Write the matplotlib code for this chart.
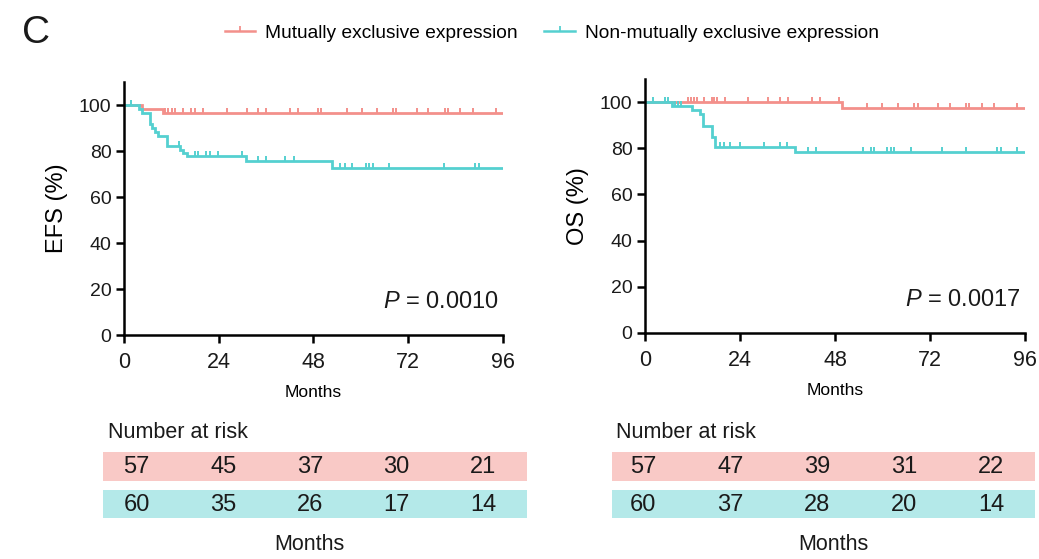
import numpy as np
import matplotlib
matplotlib.use("Agg")
import matplotlib.pyplot as plt
from matplotlib.path import Path
from matplotlib.lines import Line2D

plt.rcParams['font.family'] = ['Liberation Sans', 'DejaVu Sans']
plt.rcParams['mathtext.fontset'] = 'custom'
plt.rcParams['mathtext.it'] = 'Liberation Sans:italic'
plt.rcParams['mathtext.rm'] = 'Liberation Sans'

RED = "#F3908B"
CYAN = "#55D0D0"
RED_BAND = "#F9C9C6"
CYAN_BAND = "#B4E9E9"

groups = ["Mutually exclusive expression", "Non-mutually exclusive expression"]

# EFS curves (months, survival %)
efs_red_t = [0, 4.6, 9.8]
efs_red_s = [100, 98.2, 96.5]
efs_red_cens = [10.4, 11.2, 12.1, 12.9, 15.0, 17.1, 18.0, 20.1, 26.0, 31.1, 34.0, 36.1,
                42.0, 44.1, 49.2, 50.0, 56.4, 60.2, 64.0, 68.2, 69.0, 74.1, 77.0, 81.3,
                82.1, 85.1, 88.4, 94.3]
efs_cyan_t = [0, 3.8, 4.6, 6.6, 7.0, 7.8, 8.7, 10.8, 14.2, 15.0, 15.9, 30.8, 52.7]
efs_cyan_s = [100, 98.4, 96.7, 91.6, 89.9, 88.2, 86.4, 82.0, 80.5, 79.1, 77.8, 75.6, 72.5]
efs_cyan_cens = [1.9, 13.9, 18.0, 18.8, 20.9, 21.8, 23.9, 29.8, 34.0, 36.1, 40.9, 43.0,
                 54.8, 55.9, 57.8, 61.2, 62.0, 63.1, 67.1, 81.1, 89.0, 89.9]

# OS curves
os_red_t = [0, 49.7]
os_red_s = [100, 97.4]
os_red_cens = [10.9, 11.6, 12.4, 13.1, 15.0, 16.8, 17.5, 18.1, 20.2, 26.1, 31.2, 34.1,
               36.2, 42.1, 44.2, 49.0, 56.0, 60.0, 64.0, 68.0, 68.9, 74.1, 77.1, 81.0,
               81.9, 85.1, 88.2, 93.9]
os_cyan_t = [0, 6.7, 11.8, 13.9, 14.7, 16.8, 17.7, 37.9]
os_cyan_s = [100, 98.3, 96.6, 94.9, 89.8, 84.7, 80.5, 78.2]
os_cyan_cens = [2.1, 5.1, 5.9, 7.6, 8.4, 9.0, 18.9, 20.0, 21.5, 24.0, 30.1, 34.1, 36.0,
                41.1, 43.1, 55.0, 57.0, 57.9, 61.1, 62.1, 62.9, 67.1, 75.0, 81.0, 88.9,
                89.9, 94.1]

# number at risk
efs_risk_red = [57, 45, 37, 30, 21]
efs_risk_cyan = [60, 35, 26, 17, 14]
os_risk_red = [57, 47, 39, 31, 22]
os_risk_cyan = [60, 37, 28, 20, 14]

p_values = ["0.0010", "0.0017"]
END = 96
TXT = '#1a1a1a'

tick_marker = Path([(0, 0), (0, 1)])


def km(ax, t, s, cens, color):
    t = np.array(t + [END])
    s = np.array(s + [s[-1]])
    ax.step(t, s, where='post', color=color, lw=2.0, solid_joinstyle='miter')
    idx = np.searchsorted(t, cens, side='right') - 1
    ax.plot(cens, s[idx], ls='none', marker=tick_marker, ms=7, mew=1.4,
            color=color)


def style(ax, ylabel, p):
    ax.set_xlim(0, 96)
    ax.set_ylim(0, 110)
    ax.set_xticks([0, 24, 48, 72, 96])
    ax.set_yticks([0, 20, 40, 60, 80, 100])
    for sp in ['top', 'right']:
        ax.spines[sp].set_visible(False)
    for sp in ['left', 'bottom']:
        ax.spines[sp].set_linewidth(1.8)
    ax.tick_params(axis='both', length=6, width=1.8, color='black')
    ax.tick_params(axis='x', labelsize=15.5, pad=6)
    ax.tick_params(axis='y', labelsize=14, pad=3)
    ax.set_ylabel(ylabel, fontsize=17, labelpad=8)
    ax.set_xlabel("Months", fontsize=12.5, labelpad=9)
    ax.text(0.99, 0.13, "$\\it{P}$ = " + p, transform=ax.transAxes, ha='right',
            va='center', fontsize=17, color=TXT)
    ax.margins(0)
    for lab in ax.get_xticklabels() + ax.get_yticklabels():
        lab.set_color(TXT)


def risk_table(ax, red_vals, cyan_vals, left):
    ax.set_xlim(left, 4.5)
    ax.set_ylim(1.37, -0.38)
    ax.axis('off')
    ax.barh([0, 1], 4.5 - left, left=left, height=[0.76, 0.74],
            color=[RED_BAND, CYAN_BAND])
    for i, (a, b) in enumerate(zip(red_vals, cyan_vals)):
        ax.text(i, 0.03, str(a), ha='center', va='center', fontsize=17, color=TXT)
        ax.text(i, 1.03, str(b), ha='center', va='center', fontsize=17, color=TXT)


fig = plt.figure(figsize=(10.39, 5.59), dpi=100)

ax1 = fig.add_axes([0.1193, 0.4007, 0.3648, 0.4526])
km(ax1, efs_red_t, efs_red_s, efs_red_cens, RED)
km(ax1, efs_cyan_t, efs_cyan_s, efs_cyan_cens, CYAN)
style(ax1, "EFS (%)", p_values[0])

ax2 = fig.add_axes([0.6208, 0.4043, 0.3657, 0.4544])
km(ax2, os_red_t, os_red_s, os_red_cens, RED)
km(ax2, os_cyan_t, os_cyan_s, os_cyan_cens, CYAN)
style(ax2, "OS (%)", p_values[1])

t1 = fig.add_axes([103.3 / 1039, 1 - 518.3 / 559, 423.4 / 1039, 66.6 / 559])
risk_table(t1, efs_risk_red, efs_risk_cyan, -0.385)
t2 = fig.add_axes([611.7 / 1039, 1 - 518.3 / 559, 423.3 / 1039, 66.6 / 559])
risk_table(t2, os_risk_red, os_risk_cyan, -0.363)

fig.text(108 / 1039, 1 - 432 / 559, "Number at risk", fontsize=15.5, va='center', color=TXT)
fig.text(616 / 1039, 1 - 432 / 559, "Number at risk", fontsize=15.5, va='center', color=TXT)
fig.text(309 / 1039, 1 - 545 / 559, "Months", fontsize=15.5, ha='center', va='center', color=TXT)
fig.text(833 / 1039, 1 - 545 / 559, "Months", fontsize=15.5, ha='center', va='center', color=TXT)

fig.text(22 / 1039, 1 - 33 / 559, "C", fontsize=28, va='center', color=TXT)

handles = [Line2D([], [], color=RED, lw=1.8, marker=tick_marker, ms=7, mew=1.3),
           Line2D([], [], color=CYAN, lw=1.8, marker=tick_marker, ms=7, mew=1.3)]
fig.legend(handles, groups, loc='center', bbox_to_anchor=(0.531, 1 - 33 / 559),
           ncol=2, frameon=False, fontsize=13.8, handlelength=1.6,
           handletextpad=0.5, columnspacing=1.4, borderpad=0)

fig.savefig("out.png", dpi=100)
